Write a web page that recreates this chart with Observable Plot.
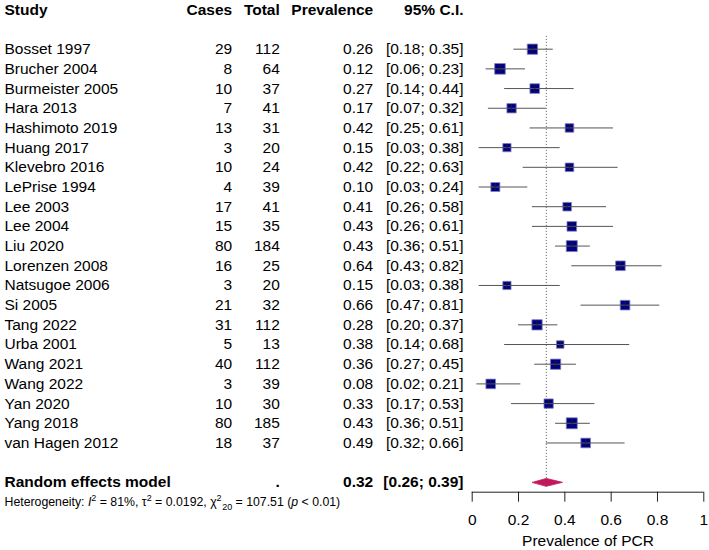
<!DOCTYPE html>
<html>
<head>
<meta charset="utf-8">
<script src="https://cdn.jsdelivr.net/npm/d3@7"></script>
<script src="https://cdn.jsdelivr.net/npm/@observablehq/plot@0.6"></script>
<style>
  html, body { margin: 0; padding: 0; background: #fff; }
</style>
</head>
<body>
<script>
// ---- data ----
const studies = ["Bosset 1997","Brucher 2004","Burmeister 2005","Hara 2013","Hashimoto 2019","Huang 2017","Klevebro 2016","LePrise 1994","Lee 2003","Lee 2004","Liu 2020","Lorenzen 2008","Natsugoe 2006","Si 2005","Tang 2022","Urba 2001","Wang 2021","Wang 2022","Yan 2020","Yang 2018","van Hagen 2012"];
const cases  = [29, 8, 10, 7, 13, 3, 10, 4, 17, 15, 80, 16, 3, 21, 31, 5, 40, 3, 10, 80, 18];
const totals = [112, 64, 37, 41, 31, 20, 24, 39, 41, 35, 184, 25, 20, 32, 112, 13, 112, 39, 30, 185, 37];
const prevalence = [0.26, 0.12, 0.27, 0.17, 0.42, 0.15, 0.42, 0.10, 0.41, 0.43, 0.43, 0.64, 0.15, 0.66, 0.28, 0.38, 0.36, 0.08, 0.33, 0.43, 0.49];
const lower = [0.18, 0.06, 0.14, 0.07, 0.25, 0.03, 0.22, 0.03, 0.26, 0.26, 0.36, 0.43, 0.03, 0.47, 0.20, 0.14, 0.27, 0.02, 0.17, 0.36, 0.32];
const upper = [0.35, 0.23, 0.44, 0.32, 0.61, 0.38, 0.63, 0.24, 0.58, 0.61, 0.51, 0.82, 0.38, 0.81, 0.37, 0.68, 0.45, 0.21, 0.53, 0.51, 0.66];
// estimated random-effects weights (%) read from square sizes
const weights = [5.6, 6.0, 4.9, 4.6, 3.9, 3.6, 3.9, 4.3, 3.9, 4.9, 6.4, 4.9, 3.6, 4.9, 5.6, 3.0, 5.6, 4.9, 4.6, 6.4, 4.9];

const headers = ["Study", "Cases", "Total", "Prevalence", "95% C.I."];
const pooledLabel = "Random effects model";
const pooledTotal = ".";
const pooledEst = 0.32, pooledLower = 0.26, pooledUpper = 0.39;
const heterogeneity = "Heterogeneity: I² = 81%, τ² = 0.0192, χ²20 = 107.51 (p < 0.01)";
const xTicks = [0, 0.2, 0.4, 0.6, 0.8, 1];
const xLabel = "Prevalence of PCR";

// ---- table building ----
const rows = studies.map((s, i) => ({
  study: s, cases: cases[i], total: totals[i], prev: prevalence[i],
  lo: lower[i], hi: upper[i], w: weights[i], row: i
}));
const headerRow = -2;
const pooledRow = studies.length + 1;
const axisRow = pooledRow + 0.5;
const hetRow = pooledRow + 1;
const pooled = [{label: pooledLabel, total: pooledTotal, est: pooledEst, lo: pooledLower, hi: pooledUpper, row: pooledRow}];
const dh = 0.2;
const diamond = [
  {x: pooledLower, y: pooledRow},
  {x: pooledEst, y: pooledRow - dh},
  {x: pooledUpper, y: pooledRow},
  {x: pooledEst, y: pooledRow + dh}
];

const FS = 15.5;
const fmt = v => v.toFixed(2);
const ci = (a, b) => `[${fmt(a)}; ${fmt(b)}]`;

// column offsets relative to the plot frame's left edge
const colStudy = -467.7, colCases = -240, colTotal = -192.4, colPrev = -99, colCI = -8.7;

function col(data, text, dx, anchor, extra = {}) {
  return Plot.text(data, {y: "row", text, frameAnchor: "left", dx, textAnchor: anchor, fontSize: FS, fill: "black", ...extra});
}

const headerData = [{row: headerRow}];

const plot = Plot.plot({
  width: 709,
  height: 550,
  marginLeft: 471.7,
  marginRight: 5.7,
  marginTop: 0,
  marginBottom: 58.3,
  style: {fontFamily: "'Liberation Sans', Arial, sans-serif", fontSize: FS + "px", color: "black", background: "white"},
  x: {domain: [0, 1], axis: null},
  y: {domain: [headerRow, axisRow], range: [9.3, 491.7], axis: null},
  r: {type: "sqrt", domain: [0, 6.4], range: [0, 6.2]},
  marks: [
    // reference line at pooled estimate
    Plot.ruleX([pooledEst], {y1: -0.65, y2: pooledRow, stroke: "#444", strokeWidth: 0.9, strokeDasharray: "1,2"}),
    // squares
    Plot.dot(rows, {x: "prev", y: "row", r: "w", symbol: "square", fill: "#000080", stroke: "#8080c0", strokeWidth: 0.8}),
    // CI lines
    Plot.ruleY(rows, {y: "row", x1: "lo", x2: "hi", stroke: "#555", strokeWidth: 1}),
    Plot.ruleX(rows, {x: "prev", y1: d => d.row - 0.17, y2: d => d.row + 0.17, stroke: "#222", strokeWidth: 0.8}),
    // diamond
    Plot.line(diamond, {x: "x", y: "y", curve: "linear-closed", fill: "#c2185b", stroke: "#c2185b", strokeWidth: 0.8}),
    // axis
    Plot.ruleY([axisRow], {x1: 0, x2: 1, stroke: "#222"}),
    Plot.axisX({ticks: xTicks, tickFormat: d => String(d), tickSize: 10, tickPadding: 12, fontSize: FS, label: null, stroke: "#222"}),
    Plot.text([xLabel], {frameAnchor: "bottom", lineAnchor: "middle", dy: 48.5, fontSize: FS, fill: "black"}),
    // headers
    col(headerData, () => headers[0], colStudy, "start", {fontWeight: "bold"}),
    col(headerData, () => headers[1], colCases, "end", {fontWeight: "bold"}),
    col(headerData, () => headers[2], colTotal, "end", {fontWeight: "bold"}),
    col(headerData, () => headers[3], colPrev, "end", {fontWeight: "bold"}),
    col(headerData, () => headers[4], colCI, "end", {fontWeight: "bold"}),
    // study rows
    col(rows, "study", colStudy, "start"),
    col(rows, d => String(d.cases), colCases, "end"),
    col(rows, d => String(d.total), colTotal, "end"),
    col(rows, d => fmt(d.prev), colPrev, "end"),
    col(rows, d => ci(d.lo, d.hi), colCI, "end"),
    // pooled row
    col(pooled, "label", colStudy, "start", {fontWeight: "bold"}),
    col(pooled, "total", colTotal, "end", {fontWeight: "bold"}),
    col(pooled, d => fmt(d.est), colPrev, "end", {fontWeight: "bold"}),
    col(pooled, d => ci(d.lo, d.hi), colCI, "end", {fontWeight: "bold"}),
    // heterogeneity
    col([{row: hetRow}], () => heterogeneity, colStudy, "start", {fontSize: 12.3})
  ]
});

document.body.appendChild(plot);

// rich-text formatting of the heterogeneity line
const svgNS = "http://www.w3.org/2000/svg";
plot.querySelectorAll("text").forEach(t => {
  if (t.textContent === heterogeneity) {
    while (t.firstChild) t.removeChild(t.firstChild);
    const parts = [
      {t: "Heterogeneity: "},
      {t: "I", italic: true},
      {t: "2", size: "9px", dy: -5},
      {t: " = 81%, τ", dy: 5},
      {t: "2", size: "9px", dy: -5},
      {t: " = 0.0192, χ", dy: 5},
      {t: "2", size: "9px", dy: -5},
      {t: "20", size: "9px", dy: 9, dx: 0.5},
      {t: " = 107.51 (", dy: -4},
      {t: "p", italic: true},
      {t: " < 0.01)"}
    ];
    parts.forEach(p => {
      const s = document.createElementNS(svgNS, "tspan");
      s.textContent = p.t;
      if (p.italic) s.setAttribute("font-style", "italic");
      if (p.size) s.setAttribute("font-size", p.size);
      if (p.dy) s.setAttribute("dy", p.dy);
      if (p.dx) s.setAttribute("dx", p.dx);
      t.appendChild(s);
    });
  }
});
</script>
</body>
</html>
